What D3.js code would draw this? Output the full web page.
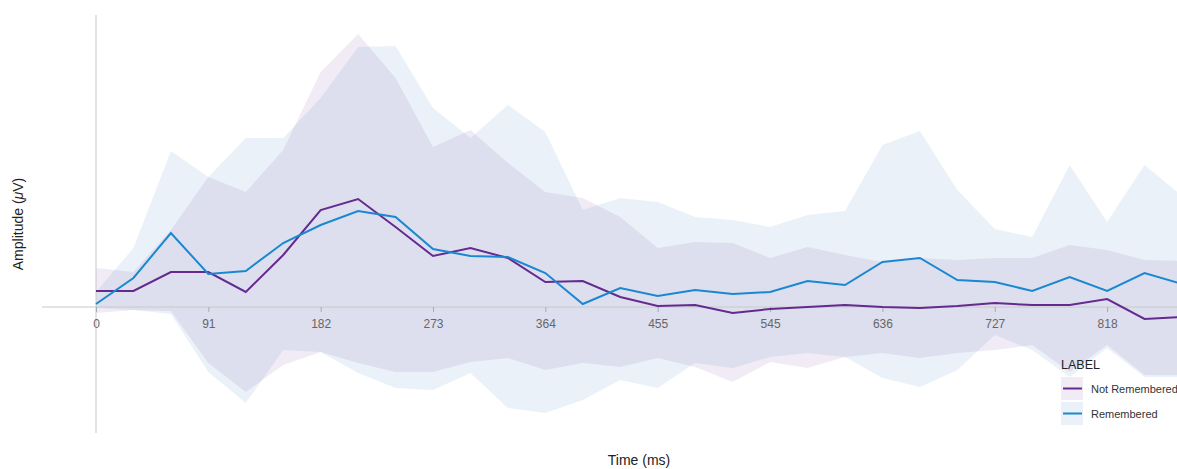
<!DOCTYPE html>
<html>
<head>
<meta charset="utf-8">
<script src="https://cdn.jsdelivr.net/npm/d3@7"></script>
<style>
body { margin: 0; background: #fff; }
svg { display: block; font-family: "Liberation Sans", Arial, sans-serif; }
</style>
</head>
<body>
<svg id="chart" width="1177" height="469"></svg>
<script>
// sample times (ms)
var times = [0, 30.3, 60.6, 90.9, 121.2, 151.5, 181.8, 212.1, 242.4, 272.7, 303.0, 333.3, 363.6, 393.9, 424.2,
    454.5, 484.8, 515.2, 545.5, 575.8, 606.1, 636.4, 666.7, 697.0, 727.3, 757.6, 787.9, 818.2, 848.5, 878.8];

var tickValues = [0, 90.9, 181.8, 272.7, 363.6, 454.5, 545.5, 636.4, 727.3, 818.2];
var tickLabels = ["0", "91", "182", "273", "364", "455", "545", "636", "727", "818"];

// Not Remembered
var notRemMean = [0.16, 0.16, 0.35, 0.35, 0.15, 0.52, 0.97, 1.08, 0.80, 0.51, 0.59, 0.49, 0.25, 0.26, 0.10,
    0.01, 0.02, -0.06, -0.02, 0.00, 0.02, 0.00, -0.01, 0.01, 0.04, 0.02, 0.02, 0.08, -0.12, -0.10];
var notRemHigh = [0.39, 0.35, 0.77, 1.30, 1.15, 1.57, 2.35, 2.73, 2.29, 1.60, 1.77, 1.44, 1.15, 1.09, 0.90,
    0.59, 0.65, 0.64, 0.49, 0.60, 0.52, 0.45, 0.49, 0.47, 0.49, 0.49, 0.62, 0.57, 0.47, 0.46];
var notRemLow = [-0.06, -0.03, -0.04, -0.56, -0.85, -0.58, -0.45, -0.56, -0.65, -0.65, -0.55, -0.51, -0.63, -0.56, -0.60,
    -0.51, -0.60, -0.75, -0.55, -0.61, -0.50, -0.46, -0.51, -0.46, -0.43, -0.38, -0.65, -0.38, -0.68, -0.68];

// Remembered
var remMean = [0.03, 0.29, 0.74, 0.33, 0.36, 0.64, 0.82, 0.96, 0.90, 0.58, 0.51, 0.50, 0.34, 0.03, 0.19,
    0.11, 0.17, 0.13, 0.15, 0.26, 0.22, 0.45, 0.49, 0.27, 0.25, 0.16, 0.30, 0.16, 0.34, 0.23];
var remHigh = [0.15, 0.59, 1.56, 1.30, 1.69, 1.69, 2.09, 2.60, 2.61, 1.99, 1.69, 2.02, 1.75, 0.97, 1.09,
    1.05, 0.90, 0.87, 0.80, 0.92, 0.96, 1.62, 1.76, 1.17, 0.78, 0.70, 1.42, 0.85, 1.42, 1.11];
var remLow = [-0.01, -0.03, -0.07, -0.65, -0.96, -0.43, -0.45, -0.66, -0.81, -0.83, -0.66, -1.01, -1.06, -0.93, -0.73,
    -0.81, -0.56, -0.61, -0.50, -0.46, -0.50, -0.71, -0.80, -0.63, -0.28, -0.43, -0.70, -0.41, -0.70, -0.70];

var labels = ["Not Remembered", "Remembered"];
var lineColors = ["#652a8e", "#1a88d0"];
var bandColors = ["#6a3d9a", "#3773b9"];
var BAND_OPACITY = 0.1;

var svg = d3.select("#chart");

var x = d3.scaleLinear().domain([0, 878.8]).range([96, 1182]);
var y = d3.scaleLinear().domain([-1.26, 2.92]).range([433, 15]);

function makeSeries(mean, high, low) {
    return times.map(function (t, i) {
        return {t: t, mean: mean[i], hi: high[i], lo: low[i]};
    });
}

var series = [
    makeSeries(notRemMean, notRemHigh, notRemLow),
    makeSeries(remMean, remHigh, remLow)
];

var area = d3.area()
    .x(function (d) { return x(d.t); })
    .y0(function (d) { return y(d.lo); })
    .y1(function (d) { return y(d.hi); });

var line = d3.line()
    .x(function (d) { return x(d.t); })
    .y(function (d) { return y(d.mean); });

svg.append("g").selectAll("path")
    .data(series)
    .enter()
    .append("path")
    .attr("d", area)
    .attr("fill", function (d, i) { return bandColors[i]; })
    .attr("fill-opacity", BAND_OPACITY);

// axes
svg.append("line")
    .attr("x1", 42).attr("x2", 1177)
    .attr("y1", y(0)).attr("y2", y(0))
    .attr("stroke", "#c8c8c8");

svg.append("line")
    .attr("x1", x(0)).attr("x2", x(0))
    .attr("y1", y.range()[1]).attr("y2", y.range()[0])
    .attr("stroke", "#c8c8c8");

var xAxis = svg.append("g")
    .attr("transform", "translate(0," + y(0) + ")")
    .call(d3.axisBottom(x)
        .tickValues(tickValues)
        .tickFormat(function (d, i) { return tickLabels[i]; })
        .tickSize(5)
        .tickSizeOuter(0)
        .tickPadding(7));

xAxis.select(".domain").remove();
xAxis.selectAll(".tick line").attr("stroke", "#aaa");
xAxis.selectAll(".tick text")
    .attr("fill", "#666")
    .style("font-size", "12px")
    .style("font-family", "Liberation Sans, Arial, sans-serif");

svg.append("g").selectAll("path")
    .data(series)
    .enter()
    .append("path")
    .attr("d", line)
    .attr("fill", "none")
    .attr("stroke", function (d, i) { return lineColors[i]; })
    .attr("stroke-width", 2);

// axis titles
svg.append("text")
    .attr("x", 639)
    .attr("y", 465)
    .attr("text-anchor", "middle")
    .attr("fill", "#222")
    .style("font-size", "14px")
    .text("Time (ms)");

var yTitle = svg.append("text")
    .attr("transform", "translate(23,224) rotate(-90)")
    .attr("text-anchor", "middle")
    .attr("fill", "#222")
    .style("font-size", "14px");
yTitle.append("tspan").text("Amplitude (");
yTitle.append("tspan").style("font-style", "italic").text("\u03bc");
yTitle.append("tspan").text("V)");

// legend
var legend = svg.append("g").attr("transform", "translate(1061,359)");

legend.append("text")
    .attr("x", 0)
    .attr("y", 10)
    .attr("fill", "#222")
    .style("font-size", "12.5px")
    .text("LABEL");

var item = legend.selectAll(".item")
    .data(labels)
    .enter()
    .append("g")
    .attr("class", "item")
    .attr("transform", function (d, i) { return "translate(0," + (18 + i * 25) + ")"; });

item.append("rect")
    .attr("width", 22)
    .attr("height", 23)
    .attr("fill", function (d, i) { return bandColors[i]; })
    .attr("fill-opacity", BAND_OPACITY);

item.append("line")
    .attr("x1", 2).attr("x2", 21)
    .attr("y1", 11.5).attr("y2", 11.5)
    .attr("stroke", function (d, i) { return lineColors[i]; })
    .attr("stroke-width", 2);

item.append("text")
    .attr("x", 30)
    .attr("y", 15.5)
    .attr("fill", "#333")
    .style("font-size", "11px")
    .text(function (d) { return d; });
</script>
</body>
</html>
